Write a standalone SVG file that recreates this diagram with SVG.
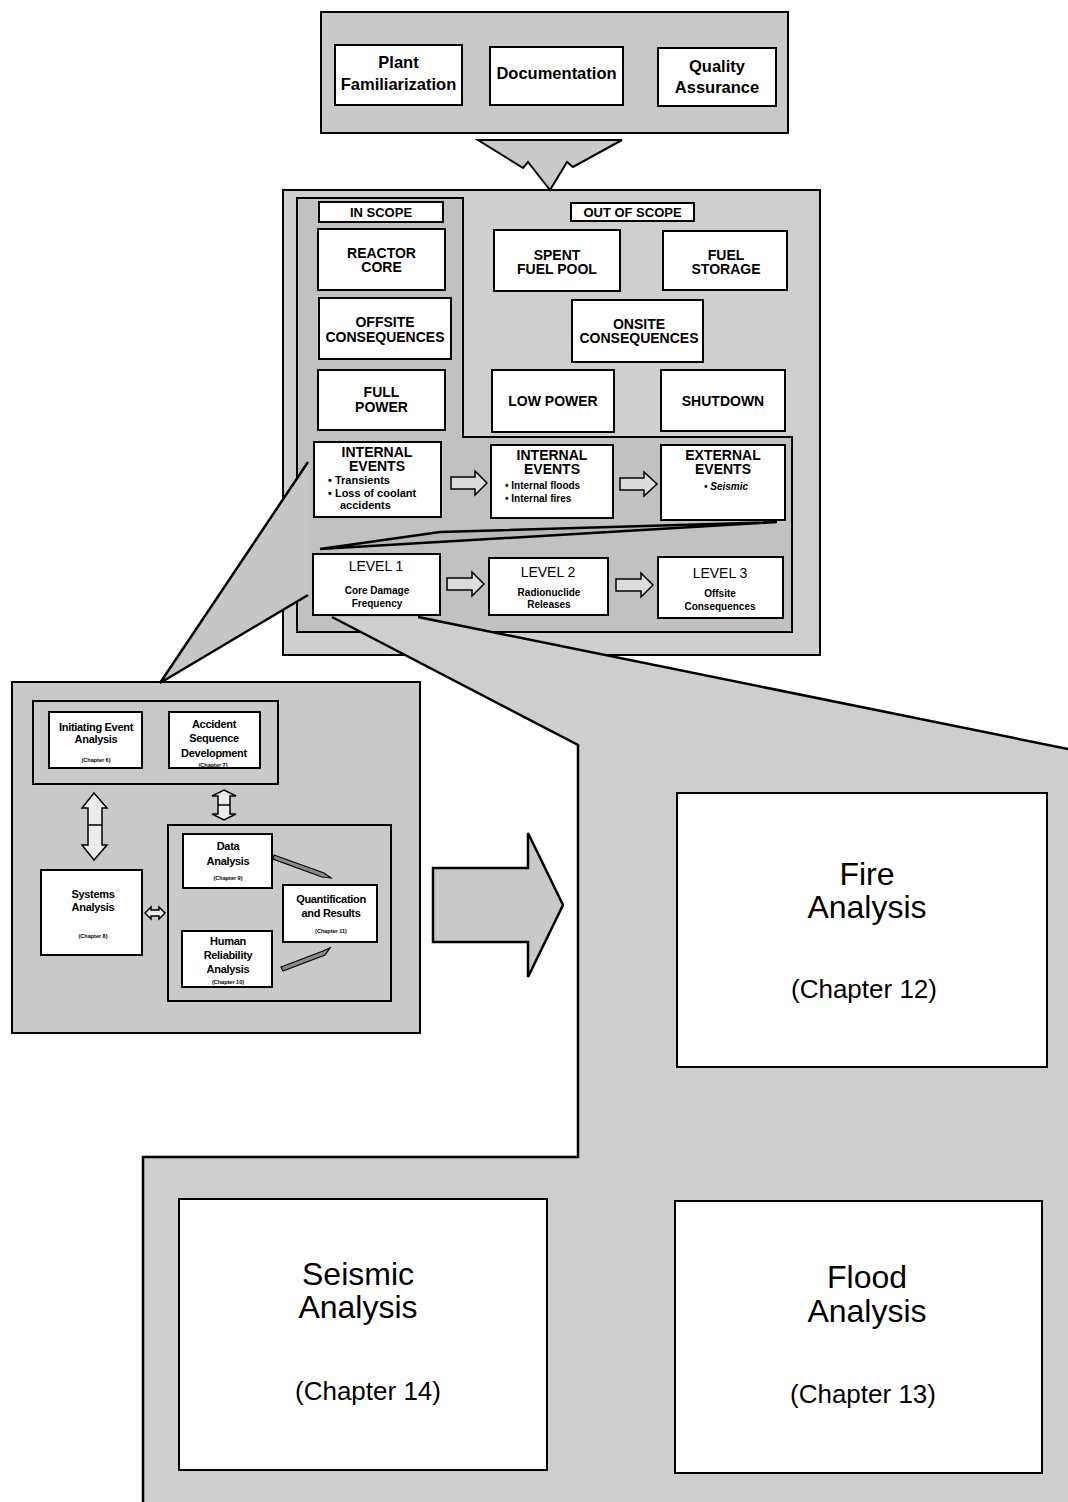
<svg xmlns="http://www.w3.org/2000/svg" width="1068" height="1502" viewBox="0 0 1068 1502">
  <style>
    .panel { fill: #c9c9c9; stroke: #000; stroke-width: 2; }
    .inner { fill: #c1c1c1; stroke: #000; stroke-width: 2; }
    .zone { fill: #cecece; }
    .box { fill: #fff; stroke: #000; stroke-width: 2; }
    .edge { fill: none; stroke: #000; stroke-width: 2.5; stroke-linejoin: miter; }
    .arrow { fill: #dcdcdc; stroke: #000; stroke-width: 1.5; stroke-linejoin: miter; }
    .t { font-family: 'Liberation Sans', Arial, Helvetica, sans-serif; font-weight: bold; text-anchor: middle; fill: #000; }
    .l { text-anchor: start; }
    .h16 { font-size: 16.5px; }
    .h14 { font-size: 14px; }
    .h13 { font-size: 13px; }
    .b11 { font-size: 11px; }
    .b10 { font-size: 10px; }
    .s11 { font-size: 11px; letter-spacing: -0.3px; }
    .ch { font-size: 5.5px; }
    .reg { font-weight: normal; }
    .big { font-size: 32px; font-weight: normal; }
    .chap { font-size: 26px; font-weight: normal; }
  </style>

  <!-- Supporting tasks panel -->
  <g id="support-panel">
    <rect class="panel" x="321" y="12" width="467" height="121"/>
  </g>
  <g id="plant-familiarization">
    <rect class="box" x="335" y="45" width="127" height="60"/>
    <text class="t h16" x="398.5" y="68">Plant</text>
    <text class="t h16" x="398.5" y="90">Familiarization</text>
  </g>
  <g id="documentation">
    <rect class="box" x="490" y="47" width="133" height="58"/>
    <text class="t h16" x="556.5" y="79">Documentation</text>
  </g>
  <g id="quality-assurance">
    <rect class="box" x="658" y="48" width="118" height="58"/>
    <text class="t h16" x="717" y="72">Quality</text>
    <text class="t h16" x="717" y="93">Assurance</text>
  </g>

  <!-- Scope panel -->
  <g id="scope-panel">
    <rect class="panel" x="283" y="190" width="537" height="465" style="fill:#cfcfcf"/>
    <path class="inner" d="M297,198 H463 V437 H792 V632 H297 Z"/>
  </g>
  <g id="in-scope-label">
    <rect class="box" x="319" y="202" width="124" height="20"/>
    <text class="t h13" x="381" y="217">IN SCOPE</text>
  </g>
  <g id="out-of-scope-label">
    <rect class="box" x="571" y="203" width="123" height="18"/>
    <text class="t h13" x="632.5" y="216.5">OUT OF SCOPE</text>
  </g>
  <g id="reactor-core">
    <rect class="box" x="318" y="229" width="127" height="61"/>
    <text class="t h14" x="381.5" y="258">REACTOR</text>
    <text class="t h14" x="381.5" y="272">CORE</text>
  </g>
  <g id="offsite-consequences">
    <rect class="box" x="319" y="298" width="132" height="61"/>
    <text class="t h14" x="385" y="327">OFFSITE</text>
    <text class="t h14" x="385" y="342">CONSEQUENCES</text>
  </g>
  <g id="full-power">
    <rect class="box" x="318" y="370" width="127" height="60"/>
    <text class="t h14" x="381.5" y="397">FULL</text>
    <text class="t h14" x="381.5" y="412">POWER</text>
  </g>
  <g id="spent-fuel-pool">
    <rect class="box" x="494" y="230" width="126" height="61"/>
    <text class="t h14" x="557" y="260">SPENT</text>
    <text class="t h14" x="557" y="274">FUEL POOL</text>
  </g>
  <g id="fuel-storage">
    <rect class="box" x="663" y="231" width="124" height="59"/>
    <text class="t h14" x="726" y="260">FUEL</text>
    <text class="t h14" x="726" y="274">STORAGE</text>
  </g>
  <g id="onsite-consequences">
    <rect class="box" x="572" y="300" width="131" height="62"/>
    <text class="t h14" x="639" y="329">ONSITE</text>
    <text class="t h14" x="639" y="343">CONSEQUENCES</text>
  </g>
  <g id="low-power">
    <rect class="box" x="492" y="370" width="122" height="62"/>
    <text class="t h14" x="553" y="406">LOW POWER</text>
  </g>
  <g id="shutdown">
    <rect class="box" x="661" y="370" width="124" height="61"/>
    <text class="t h14" x="723" y="406">SHUTDOWN</text>
  </g>

  <g id="internal-events-1">
    <rect class="box" x="314" y="442" width="127" height="75"/>
    <text class="t h14" x="377" y="457">INTERNAL</text>
    <text class="t h14" x="377" y="471">EVENTS</text>
    <text class="t b11 l" x="328" y="484">•  Transients</text>
    <text class="t b11 l" x="328" y="497">•  Loss of coolant</text>
    <text class="t b11 l" x="340" y="509">accidents</text>
  </g>
  <g id="internal-events-2">
    <rect class="box" x="491" y="445" width="122" height="73"/>
    <text class="t h14" x="552" y="460">INTERNAL</text>
    <text class="t h14" x="552" y="474">EVENTS</text>
    <text class="t b10 l" x="505" y="489">•  Internal floods</text>
    <text class="t b10 l" x="505" y="502">•  Internal fires</text>
  </g>
  <g id="external-events">
    <rect class="box" x="661" y="445" width="124" height="75"/>
    <text class="t h14" x="723" y="460">EXTERNAL</text>
    <text class="t h14" x="723" y="474">EVENTS</text>
    <text class="t b10" x="726" y="490" font-style="italic">• Seismic</text>
  </g>

  <g id="level-1">
    <rect class="box" x="313" y="554" width="127" height="61"/>
    <text class="t h14 reg" x="376" y="571">LEVEL 1</text>
    <text class="t b10" x="377" y="594">Core Damage</text>
    <text class="t b10" x="377" y="607">Frequency</text>
  </g>
  <g id="level-2">
    <rect class="box" x="489" y="558" width="119" height="57"/>
    <text class="t h14 reg" x="548" y="577">LEVEL 2</text>
    <text class="t b10" x="549" y="596">Radionuclide</text>
    <text class="t b10" x="549" y="608">Releases</text>
  </g>
  <g id="level-3">
    <rect class="box" x="658" y="557" width="125" height="61"/>
    <text class="t h14 reg" x="720" y="578">LEVEL 3</text>
    <text class="t b10" x="720" y="597">Offsite</text>
    <text class="t b10" x="720" y="610">Consequences</text>
  </g>

  <!-- Level 1 breakdown panel -->
  <g id="level1-panel">
    <rect class="panel" x="12" y="682" width="408" height="351"/>
    <rect class="panel" x="33" y="701" width="245" height="83"/>
    <rect class="panel" x="168" y="825" width="223" height="176"/>
  </g>
  <g id="initiating-event-analysis">
    <rect class="box" x="49" y="712" width="93" height="56"/>
    <text class="t s11" x="96" y="731">Initiating Event</text>
    <text class="t s11" x="96" y="743">Analysis</text>
    <text class="t ch" x="96" y="762">(Chapter 6)</text>
  </g>
  <g id="accident-sequence-development">
    <rect class="box" x="169" y="712" width="91" height="56"/>
    <text class="t s11" x="214" y="728">Accident</text>
    <text class="t s11" x="214" y="742">Sequence</text>
    <text class="t s11" x="214" y="757">Development</text>
    <text class="t ch" x="213" y="767">(Chapter 7)</text>
  </g>
  <g id="systems-analysis">
    <rect class="box" x="41" y="870" width="101" height="85"/>
    <text class="t s11" x="93" y="898">Systems</text>
    <text class="t s11" x="93" y="911">Analysis</text>
    <text class="t ch" x="93" y="938">(Chapter 8)</text>
  </g>
  <g id="data-analysis">
    <rect class="box" x="183" y="834" width="89" height="54"/>
    <text class="t s11" x="228" y="850">Data</text>
    <text class="t s11" x="228" y="865">Analysis</text>
    <text class="t ch" x="228" y="880">(Chapter 9)</text>
  </g>
  <g id="human-reliability-analysis">
    <rect class="box" x="182" y="931" width="90" height="56"/>
    <text class="t s11" x="228" y="945">Human</text>
    <text class="t s11" x="228" y="959">Reliability</text>
    <text class="t s11" x="228" y="973">Analysis</text>
    <text class="t ch" x="228" y="984">(Chapter 10)</text>
  </g>
  <g id="quantification-and-results">
    <rect class="box" x="283" y="885" width="94" height="57"/>
    <text class="t s11" x="331" y="903">Quantification</text>
    <text class="t s11" x="331" y="917">and Results</text>
    <text class="t ch" x="331" y="933">(Chapter 11)</text>
  </g>

  <!-- Zoom-out callouts -->
  <g id="callouts">
    <path class="zone" d="M332,617 L418,617 L1068,749 L1068,1502 L143,1502 L143,1157 L578,1157 L578,745 Z"/>
    <path class="edge" d="M418,617 L1068,749"/>
    <path class="edge" d="M332,617 L578,745 L578,1157 L143,1157 L143,1502"/>
    <path d="M308,462 L308,595 L160,683 Z" fill="#c6c6c6"/>
    <path class="edge" d="M308,462 L160,683 L308,595"/>
    <path d="M320,549 L440,532 L777,522 Z" fill="#b8b8b8" stroke="#000" stroke-width="2.5" stroke-linejoin="miter"/>
  </g>

  <g id="fire-analysis">
    <rect class="box" x="677" y="793" width="370" height="274"/>
    <text class="t big" x="867" y="885">Fire</text>
    <text class="t big" x="867" y="918">Analysis</text>
    <text class="t chap" x="864" y="998">(Chapter 12)</text>
  </g>
  <g id="seismic-analysis">
    <rect class="box" x="179" y="1199" width="368" height="271"/>
    <text class="t big" x="358" y="1285">Seismic</text>
    <text class="t big" x="358" y="1318">Analysis</text>
    <text class="t chap" x="368" y="1400">(Chapter 14)</text>
  </g>
  <g id="flood-analysis">
    <rect class="box" x="675" y="1201" width="367" height="272"/>
    <text class="t big" x="867" y="1288">Flood</text>
    <text class="t big" x="867" y="1322">Analysis</text>
    <text class="t chap" x="863" y="1403">(Chapter 13)</text>
  </g>

  <g id="connectors">
    <!-- support tasks feed the scope definition -->
    <path class="panel" d="M478,140 L622,140 L573,167 L567,162 L550,190 L528,162 L523,168 Z"/>
    <!-- event progression -->
    <path class="arrow" d="M451,477 L475,477 L475,471 L487,483 L475,495 L475,489 L451,489 Z"/>
    <path class="arrow" d="M620,478 L644,478 L644,472 L657,484 L644,496 L644,490 L620,490 Z"/>
    <!-- level progression -->
    <path class="arrow" d="M447,578 L472,578 L472,572 L484,584 L472,596 L472,590 L447,590 Z"/>
    <path class="arrow" d="M616,579 L641,579 L641,573 L653,585 L641,597 L641,591 L616,591 Z"/>
    <!-- internal events to hazard analyses -->
    <path class="panel" d="M433,868 L528,868 L528,833 L563,905 L528,977 L528,942 L433,942 Z" style="stroke-width:2.5"/>
    <!-- level 1 task links -->
    <path class="arrow" d="M94,793 L107,808 L102,808 L102,845 L107,845 L94,860 L82,845 L88,845 L88,808 L82,808 Z" style="fill:#ececec"/>
    <path d="M88,825 H102" stroke="#000" stroke-width="1.5"/>
    <path class="arrow" d="M224,790 L236,796 L230,796 L230,814 L236,814 L224,820 L212,814 L218,814 L218,796 L212,796 Z" style="fill:#ececec"/>
    <path d="M218,805 H230" stroke="#000" stroke-width="1.5"/>
    <path class="arrow" d="M145,913 L151,907 L151,910 L159,910 L159,907 L165,913 L159,919 L159,916 L151,916 L151,919 Z" style="fill:#ececec"/>
    <path d="M274,855 L324,873 L331,878 L322,877 L273,859 Z" fill="#8a8a8a" stroke="#000" stroke-width="1.2"/>
    <path d="M281,967 L323,951 L330,948 L325,955 L283,971 Z" fill="#8a8a8a" stroke="#000" stroke-width="1.2"/>
  </g>
</svg>
